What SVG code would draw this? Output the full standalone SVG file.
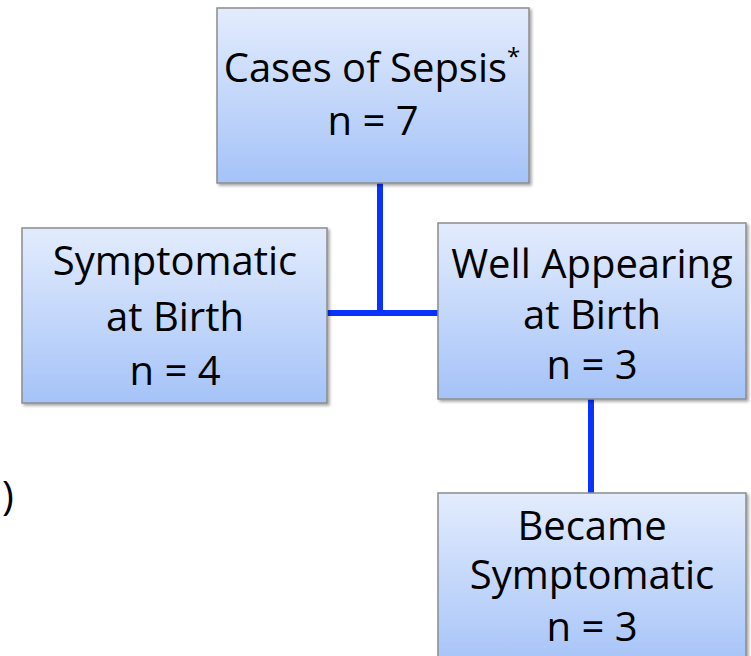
<svg xmlns="http://www.w3.org/2000/svg" width="751" height="656" viewBox="0 0 751 656">
<defs>
<linearGradient id="g" x1="0" y1="0" x2="0" y2="1">
<stop offset="0" stop-color="#e3ecfd"/>
<stop offset="1" stop-color="#a5c3f8"/>
</linearGradient>
<filter id="sh" x="-5%" y="-5%" width="115%" height="115%">
<feDropShadow dx="2" dy="2" stdDeviation="1.5" flood-color="#000" flood-opacity="0.35"/>
</filter>
</defs>
<style>
.box{fill:url(#g);stroke:#8c8c8c;stroke-width:1.5;filter:url(#sh)}
.t{font-family:"Open Sans","Liberation Sans",sans-serif;font-size:40px;fill:#000;text-anchor:middle}
.c{stroke:#0a32ff;stroke-width:6;fill:none}
</style>
<rect width="751" height="656" fill="#fff"/>
<g id="connectors">
<line class="c" x1="380" y1="183" x2="380" y2="310"/>
<line class="c" x1="327" y1="313" x2="438" y2="313"/>
<line class="c" x1="591" y1="399" x2="591" y2="493"/>
</g>
<g id="sepsis">
<rect class="box" x="217" y="8" width="312" height="175"/>
<text class="t" x="372" y="82">Cases of Sepsis<tspan font-size="24" dy="-17">*</tspan></text>
<text class="t" x="373" y="135">n = 7</text>
</g>
<g id="symptomatic">
<rect class="box" x="22" y="228" width="305" height="175"/>
<text class="t" x="175" y="275">Symptomatic</text>
<text class="t" x="175" y="331">at Birth</text>
<text class="t" x="175" y="385">n = 4</text>
</g>
<g id="well">
<rect class="box" x="438" y="223" width="308" height="176"/>
<text class="t" x="592" y="278">Well Appearing</text>
<text class="t" x="592" y="329">at Birth</text>
<text class="t" x="592" y="379">n = 3</text>
</g>
<g id="became">
<rect class="box" x="438" y="493" width="308" height="175"/>
<text class="t" x="592" y="540">Became</text>
<text class="t" x="592" y="589">Symptomatic</text>
<text class="t" x="592" y="641">n = 3</text>
</g>
<text class="t" x="8" y="510" font-size="46">)</text>
</svg>
